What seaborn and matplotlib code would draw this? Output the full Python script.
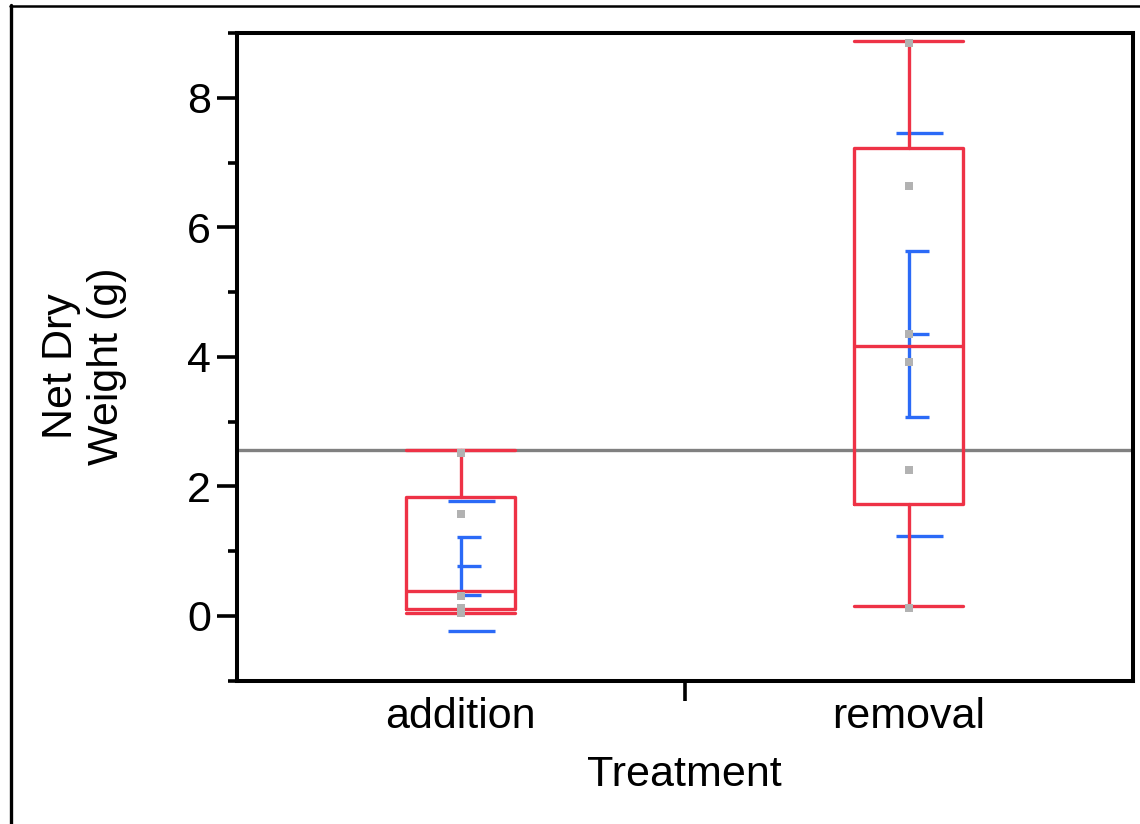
import numpy as np
import pandas as pd
import matplotlib.pyplot as plt
import seaborn as sns
from matplotlib.lines import Line2D
from matplotlib.ticker import FixedLocator

# data
categories = ["addition", "removal"]
addition_pts = [2.51, 1.58, 0.31, 0.12, 0.04]
removal_pts = [8.85, 6.64, 4.35, 3.92, 2.26, 0.13]

whisker_lo = [0.04, 0.15]
q1 = [0.11, 1.73]
median = [0.39, 4.17]
q3 = [1.83, 7.23]
whisker_hi = [2.56, 8.88]

means = [0.775, 4.35]
std_dev = [1.005, 3.11]
std_err = [0.445, 1.28]
grand_mean = 2.56

RED = "#EE3246"
BLUE = "#2B6AF7"
GRAY_PT = "#b2b2b2"

sns.set_style("white")
plt.rcParams["font.family"] = ["Liberation Sans", "DejaVu Sans"]
plt.rcParams.update({"text.color": "black", "axes.labelcolor": "black",
                     "xtick.color": "black", "ytick.color": "black"})

df = pd.DataFrame({
    "Treatment": ["addition"] * len(addition_pts) + ["removal"] * len(removal_pts),
    "weight": addition_pts + removal_pts,
})

W, H = 1140, 824
fig = plt.figure(figsize=(W / 100, H / 100), dpi=100)
ax = fig.add_axes([236.7 / W, 1 - 680.7 / H, (1133 - 236.7) / W, (680.7 - 33) / H])

# reference line (grand mean)
ax.axhline(grand_mean, color="#808080", lw=2.4, zorder=1)

# box plots from the summary values
stats = [
    dict(med=median[i], q1=q1[i], q3=q3[i], whislo=whisker_lo[i], whishi=whisker_hi[i], fliers=[])
    for i in range(len(categories))
]
red_line = dict(color=RED, lw=2.4, zorder=3)
ax.bxp(stats, positions=[0, 1], widths=0.243, capwidths=0.243, showfliers=False,
       boxprops=red_line, whiskerprops=red_line, capprops=red_line,
       medianprops=red_line, manage_ticks=False)

# mean error bars (mean +/- SE) and std dev lines
pos = np.arange(len(categories))
m = np.array(means)
se = np.array(std_err)
sd = np.array(std_dev)
ax.vlines(pos, m - se, m + se, color=BLUE, lw=2.4, zorder=2.5)
for yy in (m - se, m, m + se):
    ax.hlines(yy, pos - 0.009, pos + 0.045, color=BLUE, lw=2.4, zorder=2.5)
for yy in (m - sd, m + sd):
    ax.hlines(yy, pos - 0.028, pos + 0.076, color=BLUE, lw=2.4, zorder=2.5)

# raw points
sns.stripplot(data=df, x="Treatment", y="weight", order=categories, jitter=False,
              marker="s", color=GRAY_PT, size=6.2, linewidth=0, ax=ax, zorder=5)

ax.set_xlim(-0.5, 1.5)
ax.set_ylim(-1, 9)
ax.set_xlabel("Treatment", fontsize=31, labelpad=13)
ax.set_ylabel("")

ax.set_yticks([0, 2, 4, 6, 8])
ax.yaxis.set_minor_locator(FixedLocator([-1, 1, 3, 5, 7, 9]))
ax.tick_params(axis="y", which="major", length=14.4, width=2.6, labelsize=31, pad=4, left=True)
ax.tick_params(axis="y", which="minor", length=6.5, width=2.6, left=True)

ax.set_xticks([0, 1])
ax.set_xticklabels(categories)
ax.xaxis.set_minor_locator(FixedLocator([0.5]))
ax.tick_params(axis="x", which="major", length=0, labelsize=31, pad=12)
ax.tick_params(axis="x", which="minor", length=14.4, width=2.6, bottom=True)

for s in ax.spines.values():
    s.set_visible(True)
    s.set_color("black")
    s.set_linewidth(2.9)

fig.text(84 / W, 1 - 366 / H, "Net Dry\nWeight (g)", rotation=90, ha="center", va="center",
         multialignment="center", fontsize=31, linespacing=1.2)

# outer frame (left and top edges)
fig.add_artist(Line2D([11 / W, 11 / W], [0, 1 - 5 / H], transform=fig.transFigure, color="black", lw=2.4))
fig.add_artist(Line2D([10 / W, 1], [1 - 6 / H, 1 - 6 / H], transform=fig.transFigure, color="black", lw=1.8))

fig.savefig("out.png", dpi=100)
plt.close(fig)
